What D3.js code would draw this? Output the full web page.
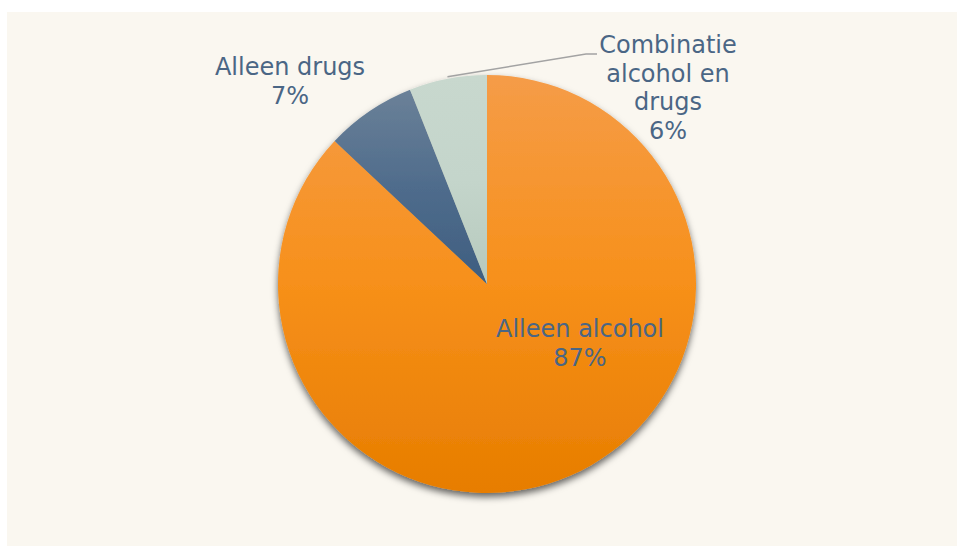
<!DOCTYPE html>
<html>
<head>
<meta charset="utf-8">
<script src="https://cdn.jsdelivr.net/npm/d3@7"></script>
<style>
  html, body { margin: 0; padding: 0; background: #ffffff; }
  svg { display: block; }
</style>
</head>
<body>
<div class="chart"></div>
<script>
// data
var categories = ["Alleen alcohol", "Alleen drugs", "Combinatie alcohol en drugs"];
var values = [87, 7, 6];
var labelLines = [["Alleen alcohol", "87%"], ["Alleen drugs", "7%"], ["Combinatie", "alcohol en", "drugs", "6%"]];

// layout
var W = 957, H = 549;
var cx = 487, cy = 284, radius = 209;
var labelAnchors = [{ x: 580, y: 337 }, { x: 290, y: 75 }, { x: 668, y: 53 }];
var lineHeight = 28.5;
var gradStops = [
    ["#f59c48", "#f7901a", "#e77d00"],
    ["#6b8198", "#4f6c8c", "#3e5e80"],
    ["#c8d8ce", "#c4d5cb", "#b6c9bd"]
];

var svg = d3.select(".chart").append("svg")
    .attr("width", W)
    .attr("height", H);

var defs = svg.append("defs");

var shadow = defs.append("filter")
    .attr("id", "shadow")
    .attr("x", "-20%").attr("y", "-20%")
    .attr("width", "140%").attr("height", "140%");
shadow.append("feDropShadow")
    .attr("dx", 0).attr("dy", 4)
    .attr("stdDeviation", 3.5)
    .attr("flood-color", "#000")
    .attr("flood-opacity", 0.6);

gradStops.forEach(function (stops, i) {
    var g = defs.append("linearGradient")
        .attr("id", "grad" + i)
        .attr("x1", 0).attr("y1", 0)
        .attr("x2", 0).attr("y2", 1);
    stops.forEach(function (c, j) {
        g.append("stop")
            .attr("offset", (j / (stops.length - 1) * 100) + "%")
            .attr("stop-color", c);
    });
});

// background panel
svg.append("rect")
    .attr("x", 7).attr("y", 12)
    .attr("width", W - 7).attr("height", H - 12 - 3)
    .attr("fill", "#faf7f0");

var pie = d3.pie().sort(null).value(function (d) { return d; });
var arcs = pie(values);
var arc = d3.arc().innerRadius(0).outerRadius(radius);

var pieG = svg.append("g")
    .attr("transform", "translate(" + cx + "," + cy + ")")
    .attr("filter", "url(#shadow)");

pieG.selectAll("path")
    .data(arcs)
    .enter()
    .append("path")
    .attr("d", arc)
    .attr("fill", function (d, i) { return "url(#grad" + i + ")"; });

// leader line for the small slice
var slice = arcs[2];
var mid = (slice.startAngle + slice.endAngle) / 2;
var p0 = [cx + Math.sin(mid) * (radius + 2), cy - Math.cos(mid) * (radius + 2)];
svg.append("polyline")
    .attr("points", [p0, [586, 54], [597, 54]].map(function (p) { return p.join(","); }).join(" "))
    .attr("fill", "none")
    .attr("stroke", "#a3a3a3")
    .attr("stroke-width", 1.5);

// labels
var labels = svg.append("g")
    .attr("font-family", "'DejaVu Sans', Verdana, sans-serif")
    .attr("font-size", "24px")
    .attr("fill", "#4a6685")
    .attr("text-anchor", "middle");

labelLines.forEach(function (lines, i) {
    var t = labels.append("text")
        .attr("x", labelAnchors[i].x)
        .attr("y", labelAnchors[i].y);
    lines.forEach(function (s, j) {
        t.append("tspan")
            .attr("x", labelAnchors[i].x)
            .attr("dy", j === 0 ? 0 : lineHeight)
            .text(s);
    });
});
</script>
</body>
</html>
